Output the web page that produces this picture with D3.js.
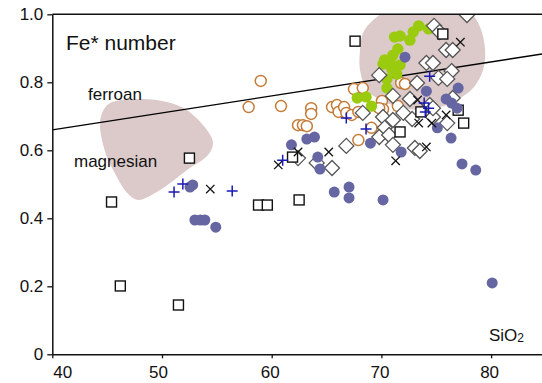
<!DOCTYPE html>
<html>
<head>
<meta charset="utf-8">
<script src="https://cdn.jsdelivr.net/npm/d3@7"></script>
<style>
  body { margin: 0; background: #fff; }
  svg text { font-family: "Liberation Sans", Arial, sans-serif; fill: #111; }
</style>
</head>
<body>
<div id="chart"></div>
<script>
// SiO2 (wt%) vs Fe* number
const squares = [
  [46.2, 0.201], [51.5, 0.145], [45.4, 0.448], [52.5, 0.577], [58.8, 0.439], [59.6, 0.439],
  [62.5, 0.454], [61.9, 0.580], [67.6, 0.921], [75.6, 0.942], [71.7, 0.654], [77.5, 0.680],
  [77.0, 0.718], [73.6, 0.713]
];
const crosses = [
  [54.4, 0.486], [60.6, 0.557], [62.4, 0.595], [65.2, 0.595], [73.4, 0.680], [74.6, 0.680],
  [74.1, 0.610], [71.3, 0.569], [77.2, 0.918], [75.9, 0.704], [73.3, 0.748]
];
const pluses = [
  [51.1, 0.477], [51.9, 0.501], [56.4, 0.480], [61.0, 0.571], [66.8, 0.695], [68.6, 0.663],
  [74.4, 0.818], [73.9, 0.739], [74.3, 0.724], [74.0, 0.713]
];
const dots = [
  [52.55, 0.492], [52.8, 0.498], [53.0, 0.395], [53.5, 0.395], [53.9, 0.395], [54.9, 0.374],
  [61.8, 0.616], [63.2, 0.633], [63.9, 0.639], [64.2, 0.580], [64.4, 0.545], [65.7, 0.477],
  [67.05, 0.492], [67.05, 0.460], [70.15, 0.454], [69.0, 0.621], [71.8, 0.595], [75.1, 0.666],
  [72.15, 0.874], [74.1, 0.774], [77.0, 0.783], [75.9, 0.751], [76.4, 0.739], [76.9, 0.724],
  [76.35, 0.636], [77.35, 0.560], [78.6, 0.542], [80.1, 0.210]
];
const openCircles = [
  [59.0, 0.804], [57.9, 0.727], [60.85, 0.730], [63.6, 0.724], [63.6, 0.707], [62.4, 0.674],
  [62.85, 0.674], [63.2, 0.671], [65.5, 0.727], [65.95, 0.733], [66.1, 0.713], [66.6, 0.727],
  [66.8, 0.710], [67.3, 0.704], [67.9, 0.713], [67.9, 0.630], [69.1, 0.666], [67.5, 0.780],
  [68.3, 0.783], [70.05, 0.745], [70.15, 0.721], [69.8, 0.724], [71.5, 0.730], [71.8, 0.798],
  [72.15, 0.795]
];
const greenDots = [
  [73.4, 0.966], [74.3, 0.957], [72.9, 0.948], [72.6, 0.924], [71.7, 0.936], [71.2, 0.933],
  [71.5, 0.898], [71.05, 0.880], [70.3, 0.866], [70.15, 0.854], [70.8, 0.860], [71.7, 0.851],
  [70.95, 0.839], [71.4, 0.824], [70.5, 0.810], [70.5, 0.783], [67.8, 0.754], [68.6, 0.757],
  [69.1, 0.730]
];
const diamonds = [
  [62.4, 0.577], [64.1, 0.563], [65.5, 0.548], [66.8, 0.613], [69.8, 0.821], [74.1, 0.857],
  [73.25, 0.798], [74.8, 0.966], [75.3, 0.948], [77.8, 0.998], [75.9, 0.895], [76.5, 0.895],
  [74.7, 0.857], [76.4, 0.833], [75.2, 0.813], [76.0, 0.810], [76.5, 0.754], [71.05, 0.760],
  [72.6, 0.751], [68.3, 0.710], [70.15, 0.698], [71.05, 0.689], [72.0, 0.710], [72.8, 0.692],
  [74.7, 0.698], [76.0, 0.680], [70.3, 0.666], [69.8, 0.639], [70.7, 0.645], [71.05, 0.616],
  [73.05, 0.607], [73.5, 0.598], [74.4, 0.733], [74.7, 0.724]
];
// shaded fields (outline points)
const leftField = [
  [45.26, 0.739], [47.99, 0.751], [50.46, 0.742], [52.28, 0.718], [54.10, 0.660], [54.65, 0.621],
  [54.19, 0.586], [52.28, 0.542], [49.82, 0.483], [47.81, 0.454], [46.81, 0.475], [45.90, 0.521],
  [44.99, 0.580], [44.35, 0.668], [44.53, 0.709]
];
const rightField = [
  [69.25, 0.983], [71.07, 1.019], [75.35, 1.033], [78.09, 1.004], [79.00, 0.962], [79.45, 0.895],
  [79.27, 0.836], [78.36, 0.783], [76.89, 0.748], [75.35, 0.727], [73.52, 0.718], [71.70, 0.727],
  [69.88, 0.748], [68.69, 0.777], [68.05, 0.836], [68.05, 0.895], [68.32, 0.945]
];
// ferroan / magnesian boundary: Fe* = 0.46 + 0.005 SiO2
const boundary = [[40, 0.46 + 0.005 * 40], [85, 0.46 + 0.005 * 85]];
const xTicks = [40, 50, 60, 70, 80];
const yTicks = [0, 0.2, 0.4, 0.6, 0.8, 1.0];

const width = 542, height = 383;
const x = d3.scaleLinear().domain([40, 85]).range([52.3, 52.3 + 45 * 10.97]);
const y = d3.scaleLinear().domain([0, 1]).range([354.3, 14.3]);

const svg = d3.select("#chart").append("svg")
  .attr("width", width).attr("height", height);

svg.append("clipPath").attr("id", "plot")
  .append("rect")
  .attr("x", x(40)).attr("y", y(1))
  .attr("width", width - x(40)).attr("height", y(0) - y(1));

const plot = svg.append("g").attr("clip-path", "url(#plot)");

const area = d3.line().x(d => x(d[0])).y(d => y(d[1])).curve(d3.curveCatmullRomClosed.alpha(0.5));
plot.selectAll("path.field")
  .data([leftField, rightField])
  .enter().append("path")
  .attr("class", "field")
  .attr("d", area)
  .attr("fill", "#dcc9ca");

plot.append("path")
  .attr("d", d3.line().x(d => x(d[0])).y(d => y(d[1]))(boundary))
  .attr("stroke", "#000").attr("stroke-width", 1.3).attr("fill", "none");

// top frame line
svg.append("line")
  .attr("x1", x(40)).attr("x2", width)
  .attr("y1", y(1)).attr("y2", y(1))
  .attr("stroke", "#111").attr("stroke-width", 1.4);

// orange open circles
plot.selectAll("circle.open")
  .data(openCircles).enter().append("circle")
  .attr("class", "open")
  .attr("cx", d => x(d[0])).attr("cy", d => y(d[1])).attr("r", 5.5)
  .attr("fill", "#fff").attr("stroke", "#c57b38").attr("stroke-width", 1.5);

// green dots
plot.selectAll("circle.green")
  .data(greenDots).enter().append("circle")
  .attr("class", "green")
  .attr("cx", d => x(d[0])).attr("cy", d => y(d[1])).attr("r", 5.7)
  .attr("fill", "#9acb0f");

// diamonds
plot.selectAll("path.diamond")
  .data(diamonds).enter().append("path")
  .attr("class", "diamond")
  .attr("transform", d => `translate(${x(d[0])},${y(d[1])})`)
  .attr("d", "M0,-7.5L7.5,0L0,7.5L-7.5,0Z")
  .attr("fill", "#fff").attr("stroke", "#555").attr("stroke-width", 1.3);

// squares
plot.selectAll("rect.sq")
  .data(squares).enter().append("rect")
  .attr("class", "sq")
  .attr("x", d => x(d[0]) - 5).attr("y", d => y(d[1]) - 5)
  .attr("width", 10).attr("height", 10)
  .attr("fill", "#fff").attr("stroke", "#111").attr("stroke-width", 1.4);

// slate filled dots
plot.selectAll("circle.dot")
  .data(dots).enter().append("circle")
  .attr("class", "dot")
  .attr("cx", d => x(d[0])).attr("cy", d => y(d[1])).attr("r", 5.5)
  .attr("fill", "#6666a2");

// crosses
plot.selectAll("path.cross")
  .data(crosses).enter().append("path")
  .attr("class", "cross")
  .attr("transform", d => `translate(${x(d[0])},${y(d[1])})`)
  .attr("d", "M-4.2,-4.2L4.2,4.2M-4.2,4.2L4.2,-4.2")
  .attr("stroke", "#111").attr("stroke-width", 1.3);

// blue pluses
plot.selectAll("path.plus")
  .data(pluses).enter().append("path")
  .attr("class", "plus")
  .attr("transform", d => `translate(${x(d[0])},${y(d[1])})`)
  .attr("d", "M-5.5,0L5.5,0M0,-5.5L0,5.5")
  .attr("stroke", "#1a1ab4").attr("stroke-width", 1.5);

// axes
const xAxis = svg.append("g")
  .attr("transform", `translate(0,${y(0)})`)
  .call(d3.axisBottom(x).tickValues(xTicks).tickSize(4).tickSizeOuter(0).tickPadding(8));
xAxis.selectAll("text")
  .attr("font-size", 17)
  .attr("dx", d => d === 40 ? 10 : d === 50 ? -4 : -2);

const yAxis = svg.append("g")
  .attr("transform", `translate(${x(40)},0)`)
  .call(d3.axisLeft(y).tickValues(yTicks).tickSize(5).tickSizeOuter(0).tickPadding(4)
    .tickFormat(d => d === 0 ? "0" : d.toFixed(1)));
yAxis.selectAll("text").attr("font-size", 17);

svg.selectAll(".domain").attr("stroke", "#111").attr("stroke-width", 1.5);
svg.selectAll(".tick line").attr("stroke", "#111").attr("stroke-width", 1.3);
svg.selectAll(".tick text").style("font-family", "'Liberation Sans', Arial, sans-serif").attr("fill", "#111");

// labels
svg.append("text").attr("x", 66).attr("y", 50).attr("font-size", 21).text("Fe* number");
svg.append("text").attr("x", 88).attr("y", 100).attr("font-size", 17).text("ferroan");
svg.append("text").attr("x", 74).attr("y", 167).attr("font-size", 17).text("magnesian");
const si = svg.append("text").attr("x", 489).attr("y", 341).attr("font-size", 17);
si.append("tspan").text("SiO");
si.append("tspan").attr("font-size", 12).attr("dy", 1).text("2");
</script>
</body>
</html>
